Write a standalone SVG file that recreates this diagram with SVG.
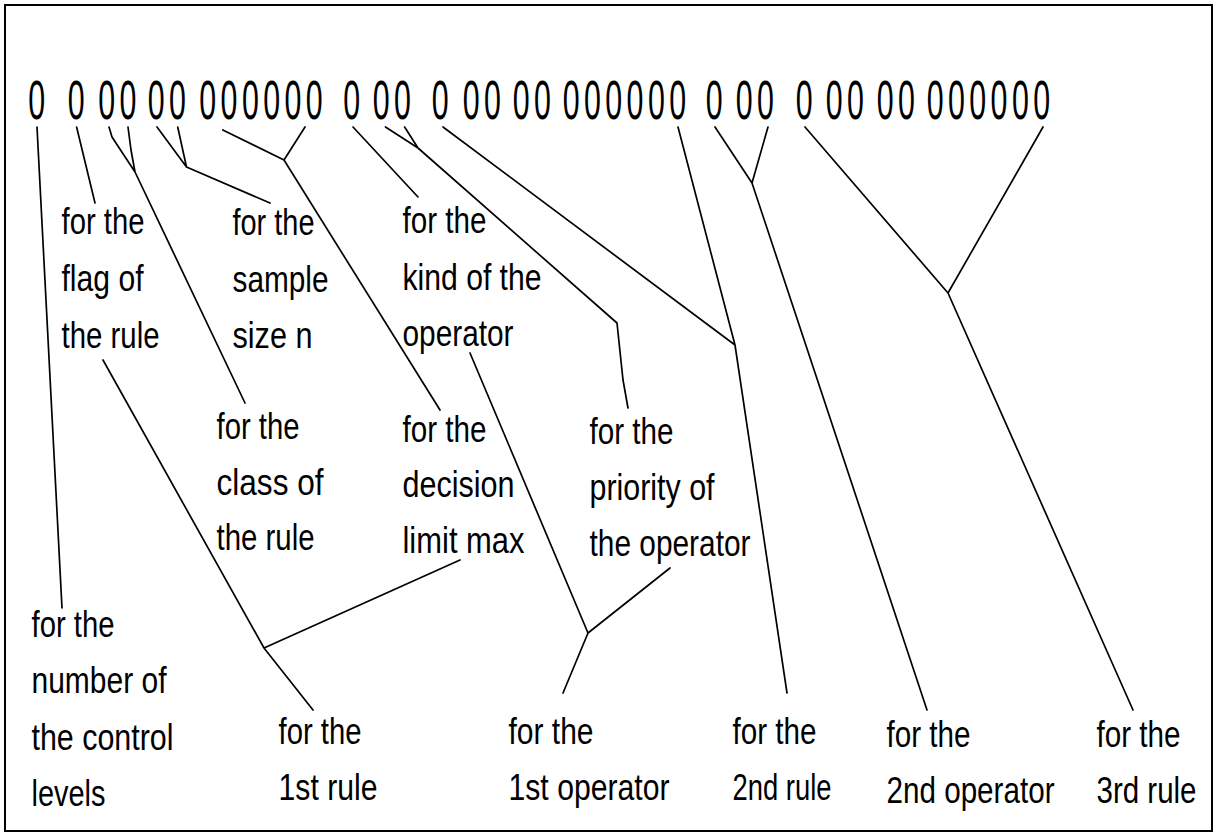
<svg xmlns="http://www.w3.org/2000/svg" width="1217" height="833" viewBox="0 0 1217 833">
<style>
.lbl{font-family:"Liberation Sans",Arial,sans-serif;font-size:37px;fill:#000}
.dig{font-family:"Liberation Sans",Arial,sans-serif;font-size:55px;fill:#000;letter-spacing:8px}
.c{fill:none;stroke:#000;stroke-width:1.7;stroke-linejoin:round;stroke-linecap:round}
</style>
<rect x="0" y="0" width="1217" height="833" fill="#fff"/>
<rect x="5" y="5" width="1207" height="826" fill="none" stroke="#000" stroke-width="2"/>
<g id="bits">
<text class="dig" transform="translate(28.3,119) scale(0.552,1)">0</text>
<text class="dig" transform="translate(67.7,119) scale(0.552,1)">0</text>
<text class="dig" transform="translate(98.3,119) scale(0.552,1)">00</text>
<text class="dig" transform="translate(147.7,119) scale(0.552,1)">00</text>
<text class="dig" transform="translate(199.3,119) scale(0.552,1)">000000</text>
<text class="dig" transform="translate(343.2,119) scale(0.552,1)">0</text>
<text class="dig" transform="translate(372.7,119) scale(0.552,1)">00</text>
<text class="dig" transform="translate(431.7,119) scale(0.552,1)">0</text>
<text class="dig" transform="translate(462.7,119) scale(0.552,1)">00</text>
<text class="dig" transform="translate(512.7,119) scale(0.552,1)">00</text>
<text class="dig" transform="translate(562.7,119) scale(0.552,1)">000000</text>
<text class="dig" transform="translate(705.7,119) scale(0.552,1)">0</text>
<text class="dig" transform="translate(735.7,119) scale(0.552,1)">00</text>
<text class="dig" transform="translate(795.7,119) scale(0.552,1)">0</text>
<text class="dig" transform="translate(825.7,119) scale(0.552,1)">00</text>
<text class="dig" transform="translate(876.7,119) scale(0.552,1)">00</text>
<text class="dig" transform="translate(926.7,119) scale(0.552,1)">000000</text>
</g>
<g id="connectors">
<path class="c" d="M37,127 L62,608"/>
<path class="c" d="M76.6,127 L95,203"/>
<path class="c" d="M109,127 L112,137 L135,172 M128,127 L131,150 L135,172 M135,172 L245,403"/>
<path class="c" d="M157,127 L186.5,167 M177.7,127 L186.5,167 M186.5,167 L270,203"/>
<path class="c" d="M222.8,130 L284,160 M305,127 L284,160 M284,160 L440,410"/>
<path class="c" d="M353,127 L418,197"/>
<path class="c" d="M385.5,127 L418,148 M404.6,127 L418,148 M418,148 L617,323 L623,380 L628,408"/>
<path class="c" d="M443,127 L735,345 M678,127 L735,345 M735,345 L787,693"/>
<path class="c" d="M715,127 L752,183 M768,127 L752,183 M752,183 L927,710"/>
<path class="c" d="M805,127 L948,293 M1043,127 L948,293 M948,293 L1133,710"/>
<path class="c" d="M103,360 L264,648 L313,710 M460,560 L264,648"/>
<path class="c" d="M470,353 L588,633 L563,693 M670,568 L588,633"/>
</g>
<g id="label-control-levels">
<text class="lbl" x="31.5" y="637" textLength="83" lengthAdjust="spacingAndGlyphs">for the</text>
<text class="lbl" x="31.5" y="693" textLength="135" lengthAdjust="spacingAndGlyphs">number of</text>
<text class="lbl" x="31.5" y="750" textLength="142" lengthAdjust="spacingAndGlyphs">the control</text>
<text class="lbl" x="31.5" y="806" textLength="74" lengthAdjust="spacingAndGlyphs">levels</text>
</g>
<g id="label-flag">
<text class="lbl" x="61.5" y="234" textLength="83" lengthAdjust="spacingAndGlyphs">for the</text>
<text class="lbl" x="61.5" y="291" textLength="82" lengthAdjust="spacingAndGlyphs">flag of</text>
<text class="lbl" x="61.5" y="348" textLength="98" lengthAdjust="spacingAndGlyphs">the rule</text>
</g>
<g id="label-sample">
<text class="lbl" x="232.5" y="235" textLength="82" lengthAdjust="spacingAndGlyphs">for the</text>
<text class="lbl" x="232.5" y="292" textLength="96" lengthAdjust="spacingAndGlyphs">sample</text>
<text class="lbl" x="232.5" y="348" textLength="80" lengthAdjust="spacingAndGlyphs">size n</text>
</g>
<g id="label-kind">
<text class="lbl" x="402.5" y="233" textLength="84" lengthAdjust="spacingAndGlyphs">for the</text>
<text class="lbl" x="402.5" y="290" textLength="139" lengthAdjust="spacingAndGlyphs">kind of the</text>
<text class="lbl" x="402.5" y="346" textLength="111" lengthAdjust="spacingAndGlyphs">operator</text>
</g>
<g id="label-class">
<text class="lbl" x="216.5" y="439" textLength="83" lengthAdjust="spacingAndGlyphs">for the</text>
<text class="lbl" x="216.5" y="495" textLength="107" lengthAdjust="spacingAndGlyphs">class of</text>
<text class="lbl" x="216.5" y="550" textLength="98" lengthAdjust="spacingAndGlyphs">the rule</text>
</g>
<g id="label-decision">
<text class="lbl" x="402.5" y="442" textLength="84" lengthAdjust="spacingAndGlyphs">for the</text>
<text class="lbl" x="402.5" y="497" textLength="112" lengthAdjust="spacingAndGlyphs">decision</text>
<text class="lbl" x="402.5" y="553" textLength="122" lengthAdjust="spacingAndGlyphs">limit max</text>
</g>
<g id="label-priority">
<text class="lbl" x="589.5" y="444" textLength="84" lengthAdjust="spacingAndGlyphs">for the</text>
<text class="lbl" x="589.5" y="500" textLength="125" lengthAdjust="spacingAndGlyphs">priority of</text>
<text class="lbl" x="589.5" y="556" textLength="161" lengthAdjust="spacingAndGlyphs">the operator</text>
</g>
<g id="label-1st-rule">
<text class="lbl" x="278.5" y="744" textLength="83" lengthAdjust="spacingAndGlyphs">for the</text>
<text class="lbl" x="278.5" y="800" textLength="99" lengthAdjust="spacingAndGlyphs">1st rule</text>
</g>
<g id="label-1st-operator">
<text class="lbl" x="508.5" y="744" textLength="85" lengthAdjust="spacingAndGlyphs">for the</text>
<text class="lbl" x="508.5" y="800" textLength="161" lengthAdjust="spacingAndGlyphs">1st operator</text>
</g>
<g id="label-2nd-rule">
<text class="lbl" x="732.5" y="744" textLength="84" lengthAdjust="spacingAndGlyphs">for the</text>
<text class="lbl" x="732.5" y="800" textLength="99" lengthAdjust="spacingAndGlyphs">2nd rule</text>
</g>
<g id="label-2nd-operator">
<text class="lbl" x="886.5" y="747" textLength="84" lengthAdjust="spacingAndGlyphs">for the</text>
<text class="lbl" x="886.5" y="803" textLength="168" lengthAdjust="spacingAndGlyphs">2nd operator</text>
</g>
<g id="label-3rd-rule">
<text class="lbl" x="1096.5" y="747" textLength="84" lengthAdjust="spacingAndGlyphs">for the</text>
<text class="lbl" x="1096.5" y="803" textLength="100" lengthAdjust="spacingAndGlyphs">3rd rule</text>
</g>
</svg>
